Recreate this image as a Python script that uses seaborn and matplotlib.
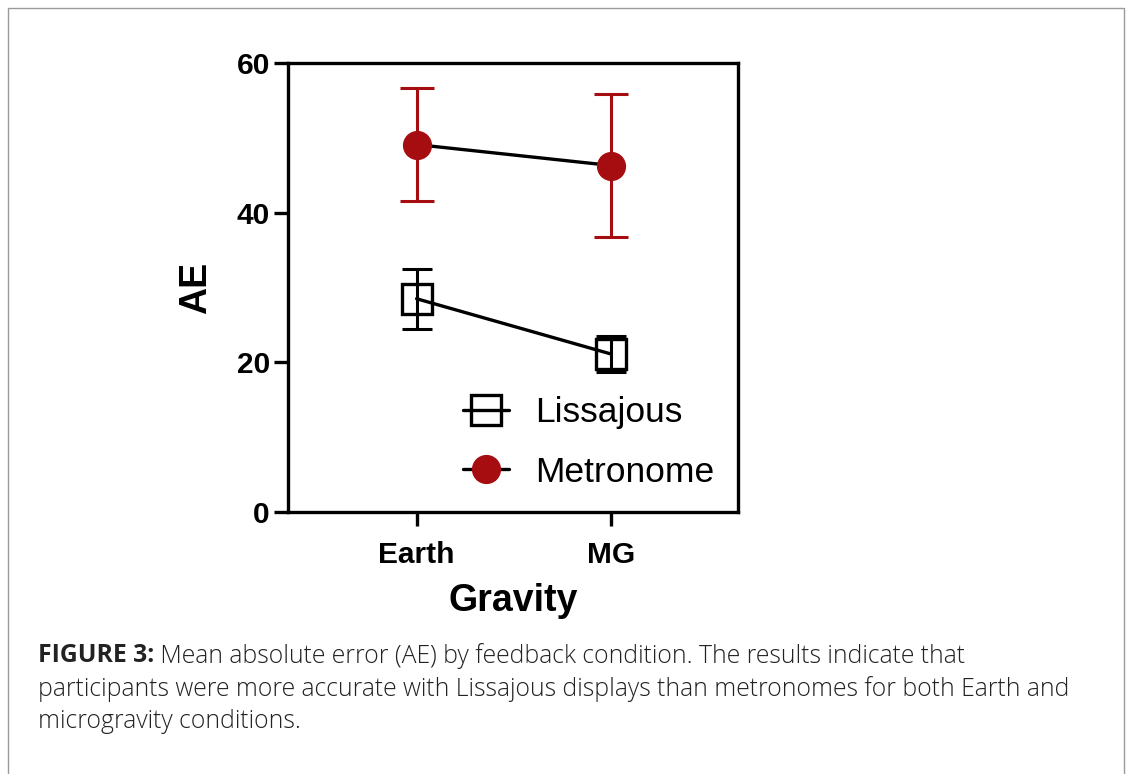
import matplotlib
matplotlib.use("Agg")
import matplotlib.pyplot as plt
import seaborn as sns
import numpy as np
from matplotlib.patches import Rectangle

# values
gravity = ["Earth", "MG"]
lissajous_mean = [28.5, 21.1]
lissajous_se = [4.0, 2.4]
metronome_mean = [49.1, 46.3]
metronome_se = [7.6, 9.5]

red = "#A50D10"

sns.set_style("ticks")
plt.rcParams["font.family"] = ["Liberation Sans", "DejaVu Sans"]
plt.rcParams["text.color"] = "black"
plt.rcParams["axes.labelcolor"] = "black"
plt.rcParams["xtick.color"] = "black"
plt.rcParams["ytick.color"] = "black"

fig = plt.figure(figsize=(11.27, 7.74), dpi=100)
ax = fig.add_axes([288 / 1127, 1 - 512 / 774, 450 / 1127, 449 / 774])

# error bars first, markers and lines on top
ax.errorbar(gravity, lissajous_mean, yerr=lissajous_se, fmt="none", ecolor="black",
            elinewidth=2.2, capsize=11, capthick=2.2, zorder=2)
ax.errorbar(gravity, metronome_mean, yerr=metronome_se, fmt="none", ecolor=red,
            elinewidth=2.2, capsize=12, capthick=2.2, zorder=2)

sns.lineplot(x=gravity, y=lissajous_mean, ax=ax, color="black", linewidth=2.4,
             marker="s", markersize=21, markerfacecolor="none", markeredgecolor="black",
             markeredgewidth=2.4, label="Lissajous", zorder=3)
sns.lineplot(x=gravity, y=metronome_mean, ax=ax, color="black", linewidth=2.4,
             marker="o", markersize=20, markerfacecolor=red, markeredgecolor=red,
             markeredgewidth=1, label="Metronome", zorder=4)

ax.set_ylim(0, 60)
ax.set_yticks([0, 20, 40, 60])
ax.set_xlim(-0.66, 1.65)

for s in ax.spines.values():
    s.set_linewidth(2.4)
    s.set_color("black")
ax.tick_params(axis="both", width=2.4, length=10, color="black", labelcolor="black",
               labelsize=21.5, pad=3)
ax.tick_params(axis="x", pad=11)
for lbl in ax.get_xticklabels() + ax.get_yticklabels():
    lbl.set_fontweight("bold")

ax.set_xlabel("Gravity", fontsize=27, fontweight="bold", labelpad=10, color="black")
ax.set_ylabel("AE", fontsize=27, fontweight="bold", labelpad=16, color="black")

leg = ax.legend(loc="lower right", bbox_to_anchor=(0.995, 0.005), frameon=False, fontsize=25.5,
                handlelength=1.3, handletextpad=0.75, labelspacing=0.75, borderaxespad=0.2)
for t in leg.get_texts():
    t.set_color("black")

# figure frame
fig.patches.append(Rectangle((8 / 1127, -0.05), 1116 / 1127, 1.05 - 8 / 774,
                             transform=fig.transFigure, fill=False,
                             edgecolor="#9a9a9a", linewidth=1.0))

# caption
cap_kw = dict(fontsize=17.8, color="#222222", family=["Open Sans", "DejaVu Sans"])
t1 = fig.text(38 / 1127, 1 - 656 / 774, "FIGURE 3:", fontweight="bold", va="center", **cap_kw)
ax.annotate(" Mean absolute error (AE) by feedback condition. The results indicate that",
            xy=(1, 0.5), xycoords=t1, va="center", ha="left", annotation_clip=False,
            fontweight="light", **cap_kw)
fig.text(38 / 1127, 1 - 689 / 774,
         "participants were more accurate with Lissajous displays than metronomes for both Earth and",
         va="center", fontweight="light", **cap_kw)
fig.text(38 / 1127, 1 - 721 / 774, "microgravity conditions.", va="center",
         fontweight="light", **cap_kw)

fig.savefig("out.png", dpi=100)
